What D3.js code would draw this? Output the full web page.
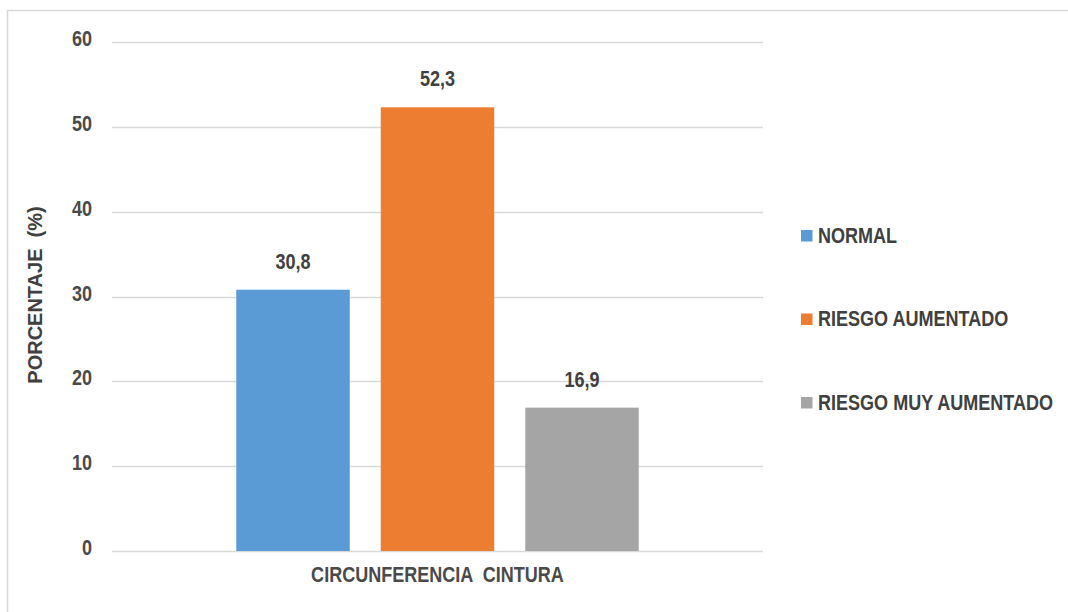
<!DOCTYPE html>
<html>
<head>
<meta charset="utf-8">
<script src="https://cdn.jsdelivr.net/npm/d3@7"></script>
<style>
  html, body { margin: 0; padding: 0; background: #fff; }
  svg { display: block; }
</style>
</head>
<body>
<svg id="chart" width="1068" height="612"></svg>
<script>
// Waist circumference risk distribution (%)
const categories = ["CIRCUNFERENCIA  CINTURA"];
const series = ["NORMAL", "RIESGO AUMENTADO", "RIESGO MUY AUMENTADO"];
const values = [30.8, 52.3, 16.9];
const valueLabels = ["30,8", "52,3", "16,9"];
const colors = ["#5B9BD5", "#ED7D31", "#A5A5A5"];
const yTicks = [0, 10, 20, 30, 40, 50, 60];

const svg = d3.select("#chart");
const sans = "'Liberation Sans', Arial, sans-serif";
const squeeze = 0.82; // condensed look for chart labels

// place a horizontally condensed label anchored at (x, y)
function label(parent, x, y, text, opts) {
  return parent.append("text")
    .attr("transform", `translate(${x},${y}) scale(${squeeze},1)`)
    .attr("text-anchor", opts.anchor || "start")
    .attr("font-family", sans)
    .attr("font-size", opts.size || 22)
    .attr("font-weight", opts.weight || "bold")
    .attr("fill", opts.fill || "#404040")
    .attr("xml:space", "preserve")
    .text(text);
}

// chart frame
svg.append("rect")
  .attr("x", 7.5).attr("y", 10.5)
  .attr("width", 1200).attr("height", 800)
  .attr("fill", "none").attr("stroke", "#d9d9d9").attr("stroke-width", 1.5);

const plot = { left: 112, right: 763, top: 42, bottom: 551 };

const y = d3.scaleLinear().domain([0, 60]).range([plot.bottom, plot.top]);
const x0 = d3.scaleBand().domain(categories).range([plot.left, plot.right])
  .paddingInner(0).paddingOuter(0.3087);
const x1 = d3.scaleBand().domain(series).range([0, x0.bandwidth()])
  .paddingInner(0.2145).paddingOuter(0);

// gridlines
svg.append("g").selectAll("line").data(yTicks).join("line")
  .attr("x1", plot.left).attr("x2", plot.right)
  .attr("y1", d => Math.round(y(d)) + 0.5).attr("y2", d => Math.round(y(d)) + 0.5)
  .attr("stroke", "#d9d9d9").attr("stroke-width", 1.5);

// y tick labels
const ticksG = svg.append("g");
const fmt = y.tickFormat(6);
yTicks.forEach(t => {
  label(ticksG, 92, y(t) + 4, fmt(t), { anchor: "end", weight: "600", fill: "#4a4a4a" });
});

// y axis title
svg.append("text")
  .attr("transform", "translate(42,295) rotate(-90)")
  .attr("text-anchor", "middle")
  .attr("font-family", sans)
  .attr("font-size", 20).attr("font-weight", "bold").attr("fill", "#404040")
  .attr("xml:space", "preserve")
  .text("PORCENTAJE  (%)");

// bars
const g = svg.append("g").attr("transform", `translate(${x0(categories[0])},0)`);
g.selectAll("rect").data(series).join("rect")
  .attr("x", d => x1(d))
  .attr("y", (d, i) => y(values[i]))
  .attr("width", x1.bandwidth())
  .attr("height", (d, i) => y(0) - y(values[i]))
  .attr("fill", (d, i) => colors[i]);

// value labels
series.forEach((s, i) => {
  label(g, x1(s) + x1.bandwidth() / 2, y(values[i]) - 21, valueLabels[i], { anchor: "middle" });
});

// category label
label(svg, x0(categories[0]) + x0.bandwidth() / 2, 582, categories[0],
  { anchor: "middle", weight: "600", fill: "#4a4a4a" });

// legend
const legend = svg.append("g");
series.forEach((s, i) => {
  const ly = 230 + i * 83.5;
  legend.append("rect")
    .attr("x", 801).attr("y", ly)
    .attr("width", 11.5).attr("height", 11.5)
    .attr("fill", colors[i]);
  label(legend, 818, ly + 12.5, s, {});
});
</script>
</body>
</html>
